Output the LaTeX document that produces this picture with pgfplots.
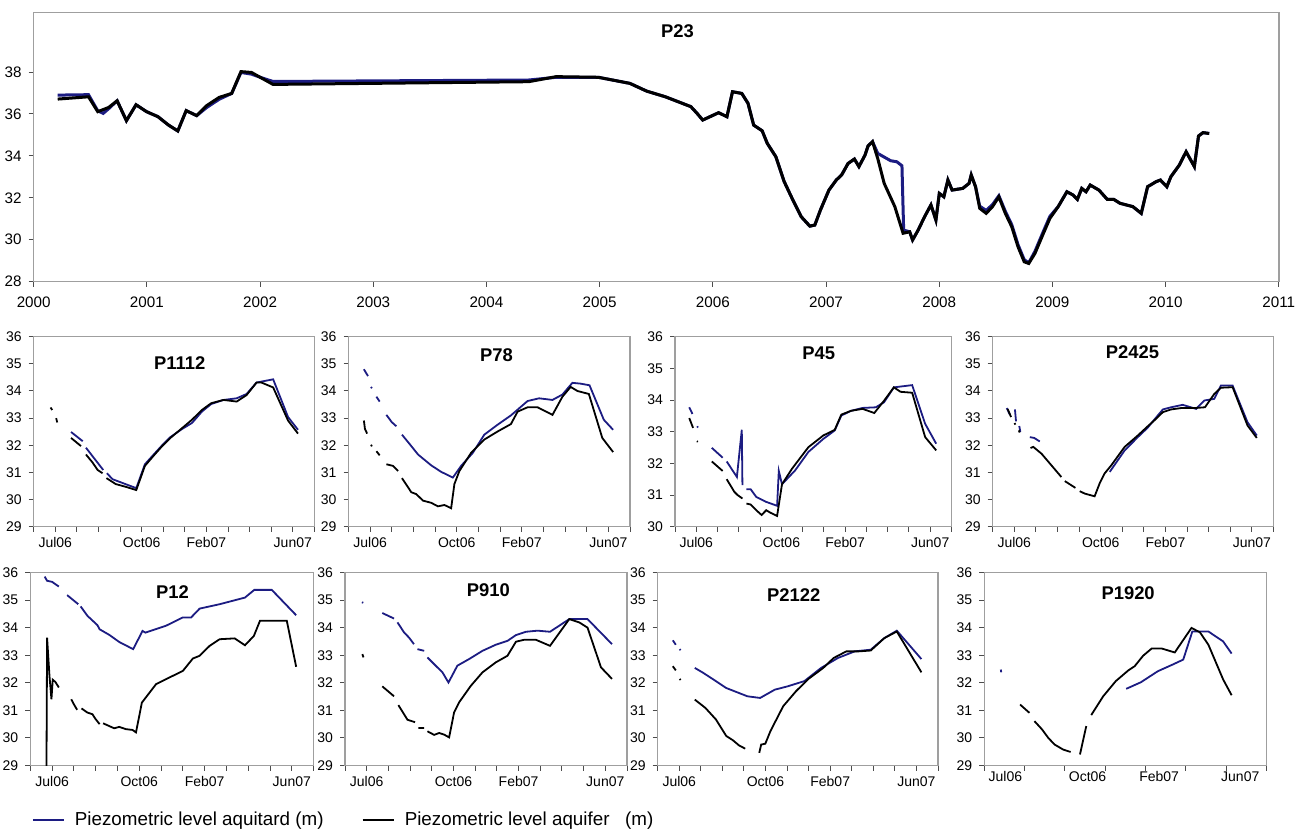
\documentclass[border=0pt]{standalone}
\usepackage{fontspec}
\setmainfont{Liberation Sans}
\usepackage{pgfplots}
\pgfplotsset{compat=1.18}
\definecolor{aqblue}{RGB}{28,28,130}
\tikzset{ttl/.style={font=\bfseries\fontsize{9.2}{11}\selectfont}}
\pgfplotsset{
  base/.style={
    scale only axis,
    /pgf/number format/assume math mode=true,
    /pgf/number format/1000 sep={},
    axis line style={gray!75, line width=0.7pt},
    tick align=outside, tick pos=left,
    major tick length=2.5pt,
    every tick/.style={black!70, line width=0.5pt},
    unbounded coords=jump,
  },
  small/.style={
    base,
    xmin=0, xmax=13, ymin=29, ymax=36,
    xtick={0,...,13},
    xticklabels={,Jul06,,,,Oct06,,,Feb07,,,,Jun07,},
    ytick={29,...,36},
    tick label style={font=\fontsize{7}{8}\selectfont},
    xticklabel style={yshift=0.5pt},
  },
  bl/.style={color=aqblue, line width=0.9pt, mark=none},
  bk/.style={color=black, line width=0.9pt, mark=none},
}
\begin{document}
\begin{tikzpicture}
\path[use as bounding box] (0,0) rectangle (652.5pt,417.5pt);

% ---------------- P23 ----------------
\begin{axis}[base, at={(16.85pt,276.65pt)}, anchor=south west,
  width=622.6pt, height=134.7pt,
  xmin=2000, xmax=2011, ymin=28, ymax=40.85,
  xtick={2000,...,2011}, ytick={28,30,...,38},
  tick label style={font=\fontsize{7.6}{9}\selectfont},
  xticklabel style={yshift=-1.5pt}]
\addplot[color=aqblue, line width=1.5pt] table {
2000.212 36.90
2000.484 36.92
2000.566 36.15
2000.614 36.03
2000.662 36.25
2000.737 36.63
2000.819 35.68
2000.904 36.44
2000.997 36.11
2001.098 35.87
2001.191 35.47
2001.273 35.19
2001.347 36.16
2001.440 35.92
2001.526 36.30
2001.638 36.70
2001.749 36.98
2001.831 37.98
2001.924 37.90
2002.017 37.72
2002.114 37.55
2004.373 37.62
2004.615 37.75
2004.987 37.75
2005.266 37.46
2005.415 37.09
2005.58 36.82
2005.805 36.35
2005.86 36.03
2005.91 35.71
2005.974 35.87
2006.05 36.06
2006.124 35.87
2006.173 37.06
2006.255 36.98
2006.31 36.51
2006.36 35.47
2006.435 35.20
2006.48 34.60
2006.556 33.96
2006.63 32.77
2006.706 31.90
2006.78 31.10
2006.856 30.65
2006.90 30.70
2006.95 31.42
2007.025 32.37
2007.09 32.85
2007.137 33.09
2007.194 33.64
2007.25 33.85
2007.29 33.49
2007.344 34.04
2007.37 34.47
2007.41 34.68
2007.456 34.12
2007.57 33.77
2007.625 33.72
2007.67 33.53
2007.685 30.46
2007.738 30.38
2007.764 29.99
2007.813 30.46
2007.87 31.10
2007.926 31.66
2007.97 30.94
2008.0 32.21
2008.04 32.05
2008.076 32.85
2008.113 32.37
2008.207 32.45
2008.263 32.69
2008.282 33.09
2008.32 32.53
2008.357 31.60
2008.414 31.40
2008.47 31.68
2008.526 32.10
2008.583 31.36
2008.64 30.72
2008.695 29.77
2008.75 29.05
2008.79 28.90
2008.845 29.45
2008.92 30.41
2008.977 31.12
2009.05 31.58
2009.127 32.29
2009.183 32.13
2009.22 31.93
2009.258 32.45
2009.296 32.29
2009.333 32.61
2009.41 32.37
2009.483 31.93
2009.54 31.93
2009.596 31.74
2009.71 31.58
2009.784 31.26
2009.84 32.53
2009.915 32.77
2009.953 32.85
2010.01 32.53
2010.046 33.01
2010.12 33.56
2010.18 34.20
2010.253 33.49
2010.29 34.95
2010.33 35.11
2010.384 35.07
};
\addplot[color=black, line width=1.5pt] table {
2000.212 36.71
2000.484 36.82
2000.566 36.11
2000.662 36.31
2000.737 36.63
2000.819 35.68
2000.904 36.44
2000.997 36.11
2001.098 35.87
2001.191 35.47
2001.273 35.19
2001.347 36.16
2001.440 35.92
2001.526 36.39
2001.638 36.79
2001.749 36.98
2001.831 38.02
2001.924 37.98
2002.017 37.70
2002.114 37.41
2004.373 37.54
2004.615 37.78
2004.987 37.75
2005.266 37.46
2005.415 37.09
2005.58 36.82
2005.805 36.35
2005.86 36.03
2005.91 35.71
2005.974 35.87
2006.05 36.06
2006.124 35.87
2006.173 37.06
2006.255 36.98
2006.31 36.51
2006.36 35.47
2006.435 35.20
2006.48 34.60
2006.556 33.96
2006.63 32.77
2006.706 31.90
2006.78 31.10
2006.856 30.65
2006.90 30.70
2006.95 31.42
2007.025 32.37
2007.09 32.85
2007.137 33.09
2007.194 33.64
2007.25 33.85
2007.29 33.49
2007.344 34.04
2007.37 34.47
2007.41 34.68
2007.456 33.88
2007.513 32.69
2007.607 31.58
2007.68 30.31
2007.738 30.38
2007.764 29.99
2007.813 30.46
2007.87 31.10
2007.926 31.66
2007.97 30.94
2008.0 32.21
2008.04 32.05
2008.076 32.85
2008.113 32.37
2008.207 32.45
2008.263 32.69
2008.282 33.09
2008.32 32.53
2008.357 31.50
2008.414 31.26
2008.47 31.58
2008.526 32.05
2008.583 31.26
2008.64 30.62
2008.695 29.67
2008.75 28.95
2008.79 28.87
2008.845 29.35
2008.92 30.31
2008.977 31.02
2009.05 31.58
2009.127 32.29
2009.183 32.13
2009.22 31.93
2009.258 32.45
2009.296 32.29
2009.333 32.61
2009.41 32.37
2009.483 31.93
2009.54 31.93
2009.596 31.74
2009.71 31.58
2009.784 31.26
2009.84 32.53
2009.915 32.77
2009.953 32.85
2010.01 32.53
2010.046 33.01
2010.12 33.56
2010.18 34.20
2010.253 33.49
2010.29 34.95
2010.33 35.11
2010.384 35.07
};
\node[ttl] at (rel axis cs:0.517,0.93) {P23};
\end{axis}

% ---------------- P1112 ----------------
\begin{axis}[small, at={(16.85pt,154.15pt)}, anchor=south west, width=140.35pt, height=95pt]
\addplot[bl] table {
1.73 32.49
2.27 32.15
2.3 nan
2.42 31.91
3.22 31.09
3.3 nan
3.39 30.97
3.65 30.75
4.75 30.42
5.15 31.30
5.57 31.67
5.95 32.00
6.33 32.30
6.87 32.60
7.33 32.82
7.79 33.24
8.22 33.52
8.79 33.67
9.40 33.73
9.86 33.89
10.32 34.31
11.09 34.43
11.78 33.04
12.24 32.57
};
\addplot[bk] table {
0.78 33.39
0.86 33.30
0.9 nan
1.04 33.00
1.09 32.84
1.2 nan
1.73 32.27
2.19 31.97
2.3 nan
2.42 31.66
2.73 31.36
2.96 31.09
3.19 30.97
3.3 nan
3.37 30.79
3.80 30.57
4.26 30.47
4.75 30.35
5.15 31.24
5.57 31.63
5.95 31.97
6.33 32.27
6.87 32.63
7.33 32.94
7.79 33.30
8.22 33.55
8.79 33.67
9.40 33.61
9.86 33.85
10.32 34.31
10.55 34.31
11.09 34.13
11.78 32.91
12.24 32.43
};
\node[ttl] at (rel axis cs:0.52,0.86) {P1112};
\end{axis}

% ---------------- P78 ----------------
\begin{axis}[small, at={(174.25pt,154.15pt)}, anchor=south west, width=140.75pt, height=95pt]
\addplot[bl] table {
0.71 34.80
0.90 34.55
0.95 nan
1.04 34.15
1.08 34.10
1.15 nan
1.29 33.79
1.44 33.61
1.5 nan
1.75 33.12
2.00 32.85
2.21 32.70
2.3 nan
2.47 32.39
2.90 31.97
3.21 31.66
3.82 31.26
4.28 31.02
4.82 30.81
5.20 31.24
5.74 31.72
6.27 32.39
6.89 32.76
7.50 33.10
8.27 33.63
8.80 33.73
9.42 33.67
9.88 33.87
10.34 34.30
10.72 34.27
11.13 34.21
11.79 32.94
12.22 32.57
};
\addplot[bk] table {
0.71 32.91
0.76 32.60
0.86 32.43
0.95 nan
1.04 32.02
1.08 31.96
1.15 nan
1.29 31.78
1.44 31.63
1.5 nan
1.75 31.30
2.06 31.24
2.29 31.05
2.35 nan
2.47 30.79
2.90 30.27
3.13 30.20
3.44 29.96
3.82 29.88
4.13 29.75
4.43 29.80
4.74 29.68
4.89 30.57
5.12 31.05
5.66 31.72
6.27 32.21
6.89 32.51
7.50 32.78
7.81 33.24
8.27 33.40
8.73 33.40
9.42 33.12
9.88 33.79
10.26 34.15
10.57 34.00
11.10 33.89
11.72 32.27
12.22 31.75
};
\node[ttl] at (rel axis cs:0.526,0.904) {P78};
\end{axis}

% ---------------- P45 ----------------
\begin{axis}[small, at={(337.5pt,154.15pt)}, anchor=south west, width=138.25pt, height=95pt,
  ymin=30, ymax=36, ytick={30,...,36}]
\addplot[bl] table {
0.67 33.77
0.82 33.56
0.9 nan
1.04 33.17
1.08 33.13
1.2 nan
1.73 32.49
2.24 32.18
2.3 nan
2.43 32.06
2.91 31.57
3.14 33.06
3.17 31.31
3.25 nan
3.36 31.18
3.56 31.18
3.82 30.94
4.26 30.79
4.80 30.66
4.88 31.76
5.03 31.34
5.65 31.78
6.27 32.36
6.97 32.77
7.51 33.04
7.82 33.51
8.28 33.66
8.82 33.75
9.44 33.77
9.83 33.93
10.29 34.40
11.15 34.47
11.76 33.25
12.28 32.62
};
\addplot[bk] table {
0.67 33.43
0.85 33.12
0.9 nan
1.03 32.70
1.07 32.68
1.2 nan
1.73 32.06
2.24 31.76
2.3 nan
2.43 31.50
2.79 31.10
2.94 31.00
3.17 30.89
3.25 nan
3.36 30.73
3.56 30.70
3.82 30.52
4.07 30.37
4.29 30.52
4.49 30.44
4.80 30.34
5.03 31.34
5.50 31.83
6.27 32.51
6.97 32.88
7.51 33.06
7.82 33.54
8.28 33.66
8.82 33.72
9.37 33.59
9.83 33.98
10.29 34.40
10.60 34.26
11.15 34.23
11.76 32.83
12.28 32.41
};
\node[ttl] at (rel axis cs:0.52,0.913) {P45};
\node[font=\fontsize{4.5}{5}\selectfont] at (rel axis cs:-0.035,0.95) {m};
\end{axis}

% ---------------- P2425 ----------------
\begin{axis}[small, at={(496.35pt,154.15pt)}, anchor=south west, width=140.35pt, height=95pt]
\addplot[bl] table {
0.65 33.37
0.80 33.12
0.9 nan
1.03 33.32
1.08 32.88
1.15 nan
1.23 32.71
1.28 32.49
1.4 nan
1.72 32.30
1.92 32.27
2.18 32.14
2.3 nan
5.42 31.02
6.11 31.81
6.72 32.30
7.18 32.65
7.49 32.95
7.88 33.32
8.26 33.40
8.80 33.49
9.42 33.34
9.80 33.65
10.26 33.71
10.57 34.20
11.11 34.20
11.80 32.85
12.23 32.36
};
\addplot[bk] table {
0.69 33.34
0.85 33.04
0.9 nan
1.01 32.82
1.05 32.76
1.15 nan
1.21 32.55
1.25 32.47
1.4 nan
1.75 31.90
1.88 31.94
2.26 31.69
2.72 31.26
3.18 30.83
3.25 nan
3.34 30.68
3.83 30.43
3.9 nan
4.03 30.31
4.26 30.22
4.72 30.12
4.95 30.59
5.18 30.96
5.49 31.26
6.11 31.94
6.72 32.36
7.18 32.70
7.49 32.92
7.88 33.22
8.26 33.32
8.72 33.37
9.34 33.37
9.83 33.40
10.26 33.89
10.57 34.12
11.11 34.14
11.80 32.73
12.23 32.27
};
\node[ttl] at (rel axis cs:0.498,0.921) {P2425};
\end{axis}

% ---------------- P12 ----------------
\begin{axis}[small, at={(15.15pt,34.75pt)}, anchor=south west, width=141.65pt, height=96.5pt,
  legend style={at={(0.005,-0.282)}, anchor=west, draw=none, fill=none,
    legend columns=2, font=\fontsize{9.4}{11}\selectfont,
    inner sep=0pt, outer sep=0pt,
    /tikz/every even column/.append style={column sep=17pt},
    /tikz/every odd column/.append style={column sep=3pt}},
  legend image code/.code={\draw[#1, line width=1.1pt] (0pt,0pt) -- (15.5pt,0pt);}]
\addplot[bl] table {
0.66 35.85
0.77 35.70
1.00 35.66
1.31 35.49
1.4 nan
1.69 35.18
2.20 34.85
2.25 nan
2.31 34.77
2.62 34.43
3.08 34.09
3.18 33.94
3.62 33.74
4.08 33.48
4.72 33.22
5.15 33.88
5.28 33.82
6.23 34.07
7.00 34.37
7.38 34.37
7.77 34.69
8.69 34.85
9.85 35.09
10.28 35.37
11.08 35.37
12.20 34.45
};
\addlegendentry{Piezometric level aquitard (m)}
\addplot[bk] table {
0.74 28.5
0.77 33.64
0.88 32.25
0.97 31.40
1.03 32.11
1.15 32.03
1.31 31.83
1.4 nan
1.88 31.40
2.00 31.22
2.15 31.02
2.25 nan
2.35 31.07
2.62 30.92
2.85 30.86
3.00 30.68
3.18 30.50
3.25 nan
3.34 30.53
3.85 30.35
4.08 30.40
4.38 30.32
4.69 30.29
4.85 30.20
5.12 31.28
5.77 31.95
6.38 32.19
7.00 32.43
7.46 32.88
7.77 32.98
8.23 33.34
8.69 33.58
9.38 33.61
9.85 33.36
10.26 33.70
10.54 34.25
11.77 34.25
12.20 32.58
};
\addlegendentry{Piezometric level aquifer\ \ \ (m)}
\node[ttl] at (rel axis cs:0.502,0.90) {P12};
\end{axis}

% ---------------- P910 ----------------
\begin{axis}[small, at={(172.5pt,34.75pt)}, anchor=south west, width=141pt, height=96.5pt]
\addplot[bl] table {
0.78 34.92
0.84 34.90
0.9 nan
1.72 34.53
2.26 34.33
2.3 nan
2.42 34.19
2.72 33.83
2.95 33.64
3.18 33.40
3.25 nan
3.34 33.22
3.65 33.16
3.7 nan
3.80 32.92
4.18 32.62
4.49 32.38
4.77 32.01
5.18 32.62
5.72 32.86
6.34 33.16
6.95 33.38
7.49 33.52
7.88 33.73
8.34 33.85
8.88 33.89
9.45 33.85
10.34 34.31
11.18 34.31
12.31 33.40
};
\addplot[bk] table {
0.80 33.04
0.85 32.92
0.9 nan
1.72 31.87
2.26 31.51
2.3 nan
2.46 31.19
2.88 30.66
3.23 30.57
3.3 nan
3.38 30.36
3.65 30.36
3.7 nan
3.80 30.24
4.11 30.11
4.34 30.18
4.57 30.12
4.80 30.02
5.03 30.93
5.26 31.29
5.80 31.89
6.34 32.38
6.95 32.74
7.49 32.98
7.88 33.49
8.26 33.56
8.80 33.56
9.45 33.34
10.34 34.31
10.80 34.19
11.18 34.00
11.80 32.56
12.31 32.14
};
\node[ttl] at (rel axis cs:0.508,0.906) {P910};
\end{axis}

% ---------------- P2122 ----------------
\begin{axis}[small, at={(328.85pt,34.75pt)}, anchor=south west, width=140.15pt, height=96.5pt]
\addplot[bl] table {
0.70 33.54
0.84 33.38
0.9 nan
1.02 33.22
1.06 33.18
1.2 nan
1.72 32.54
2.11 32.36
2.70 32.06
3.18 31.81
3.67 31.66
4.16 31.51
4.75 31.45
5.43 31.75
6.02 31.87
6.80 32.06
7.58 32.54
8.36 32.90
9.14 33.14
9.88 33.20
10.51 33.62
11.09 33.89
12.23 32.86
};
\addplot[bk] table {
0.70 32.60
0.84 32.45
0.9 nan
1.02 32.14
1.06 32.10
1.2 nan
1.72 31.39
2.21 31.09
2.70 30.67
3.18 30.07
3.48 29.92
3.77 29.73
4.06 29.61
4.2 nan
4.71 29.46
4.80 29.76
4.99 29.79
5.23 30.25
5.82 31.15
6.41 31.69
6.99 32.14
7.68 32.54
8.16 32.90
8.75 33.14
9.34 33.14
9.88 33.17
10.51 33.62
11.09 33.86
12.23 32.38
};
\node[ttl] at (rel axis cs:0.485,0.883) {P2122};
\end{axis}

% ---------------- P1920 ----------------
\begin{axis}[small, at={(492.15pt,34.75pt)}, anchor=south west, width=141pt, height=96.5pt,
  xtick={0,1.857,3.714,5.571,7.429,9.286,11.143,13}, xticklabels={},
  extra x ticks={0.97,4.76,8.06,11.8},
  extra x tick labels={Jul06,Oct06,Feb07,Jun07},
  extra x tick style={major tick length=0pt}]
\addplot[bl] table {
0.76 32.48
0.78 32.38
0.9 nan
6.54 31.78
7.22 32.02
8.00 32.42
8.68 32.66
9.17 32.84
9.59 33.86
10.33 33.86
11.01 33.50
11.40 33.06
};
\addplot[bk] table {
1.65 31.21
2.08 30.91
2.2 nan
2.31 30.61
2.66 30.31
2.95 30.00
3.24 29.76
3.63 29.58
3.98 29.49
4.2 nan
4.41 29.40
4.70 30.43
4.8 nan
4.93 30.83
5.48 31.51
6.06 32.06
6.64 32.45
6.93 32.60
7.32 32.98
7.71 33.24
8.19 33.24
8.78 33.10
9.55 33.99
9.94 33.83
10.33 33.38
11.01 32.12
11.40 31.55
};
\node[ttl] at (rel axis cs:0.51,0.893) {P1920};
\end{axis}
\end{tikzpicture}
\end{document}
